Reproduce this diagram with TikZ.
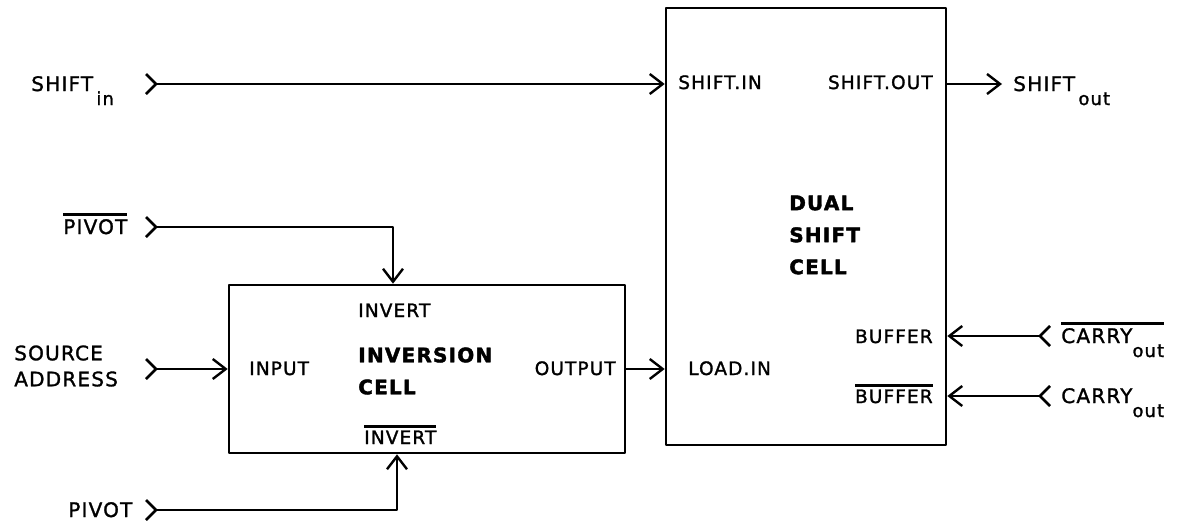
\documentclass[tikz,border=0pt]{standalone}
\usepackage{fontspec}
\setmainfont{DejaVu Sans}[LetterSpace=6,FakeBold=1.4,BoldFont=DejaVu Sans Bold,BoldFeatures={FakeBold=2}]
\usetikzlibrary{arrows.meta}
\newcommand\ob[1]{\vbox{\hrule height 2.8pt\kern 3pt\hbox{#1}}}
\newcommand\sbs[1]{\raisebox{-14pt}{\fontsize{18}{18}\selectfont #1}}
\newcommand\chevR[1]{\draw (#1) ++(-10,-10) -- (#1) -- ++(-10,10);}
\newcommand\chevL[1]{\draw (#1) ++(10,-10) -- (#1) -- ++(10,10);}
\begin{document}
\begin{tikzpicture}[x=1pt,y=-1pt,line width=2.6pt,line join=round,
  box/.style={draw,line width=2.6pt,inner sep=0pt},
  arr/.style={-{Straight Barb[length=13pt,width=20pt,line width=2.4pt]}},
  lbl/.style={inner sep=0pt,font=\fontsize{18.5}{20}\selectfont},
  ext/.style={inner sep=0pt,font=\fontsize{20}{26}\selectfont,align=left},
  ttl/.style={inner sep=0pt,font=\fontsize{20}{32}\selectfont\bfseries,align=left}]
\useasboundingbox (0,0) rectangle (1194,528);

% boxes
\node[box,minimum width=280pt,minimum height=437pt] (dual) at (806,226.5) {};
\node[box,minimum width=396pt,minimum height=168pt] (inv) at (427,369) {};

% labels inside dual
\node[lbl,anchor=base west] (shin) at (677,89) {SHIFT.IN};
\node[lbl,anchor=base east] (shout) at (934,89) {SHIFT.OUT};
\node[ttl,anchor=west] (dtitle) at (788,235) {DUAL\\SHIFT\\CELL};
\node[lbl,anchor=base east] (buf) at (934,343) {BUFFER};
\node[lbl,anchor=base west] (ldin) at (687,375) {LOAD.IN};
\node[lbl,anchor=base east] (nbuf) at (934,403) {\ob{BUFFER}};

% labels inside inversion cell
\node[lbl,anchor=base west] (invt) at (357,317) {INVERT};
\node[ttl,anchor=west] (ititle) at (357,371) {INVERSION\\CELL};
\node[lbl,anchor=base west] (ninvt) at (363,444) {\ob{INVERT}};
\node[lbl,anchor=base west] (inp) at (248,375) {INPUT};
\node[lbl,anchor=base east] (outp) at (617,375) {OUTPUT};

% external labels
\node[ext,anchor=base west] (lshin) at (30,91) {SHIFT\,\sbs{in}};
\node[ext,anchor=base west] (lshout) at (1012,91) {SHIFT\,\sbs{out}};
\node[ext,anchor=base west] (lnpiv) at (62,234) {\ob{PIVOT}};
\node[ext,anchor=west] (lsrc) at (13,366) {SOURCE\\ADDRESS};
\node[ext,anchor=base west] (lpiv) at (67,517) {PIVOT};
\node[ext,anchor=base west] (lncar) at (1060,343) {\ob{CARRY\sbs{out}}};
\node[ext,anchor=base west] (lcar) at (1060,403) {CARRY\sbs{out}};

% connector ends
\coordinate (ci) at (156,84);
\coordinate (co) at (1002,84);
\coordinate (pb) at (156,227);
\coordinate (src) at (156,369);
\coordinate (pv) at (156,510);
\coordinate (cb1) at (1040,336);
\coordinate (cb2) at (1040,396);

\chevR{ci} \chevR{pb} \chevR{src} \chevR{pv}
\chevL{cb1} \chevL{cb2}

\draw[arr] (ci) -- (ci -| dual.west);
\draw[arr] (co -| dual.east) -- (co);
\draw[arr] (pb) -| ([xshift=-34pt]inv.north);
\draw[arr] (pv) -| ([xshift=-30pt]inv.south);
\draw[arr] (src) -- (src -| inv.west);
\draw[arr] (inv.east) -- (inv.east -| dual.west);
\draw[arr] (cb1) -- (cb1 -| dual.east);
\draw[arr] (cb2) -- (cb2 -| dual.east);
\end{tikzpicture}
\end{document}
